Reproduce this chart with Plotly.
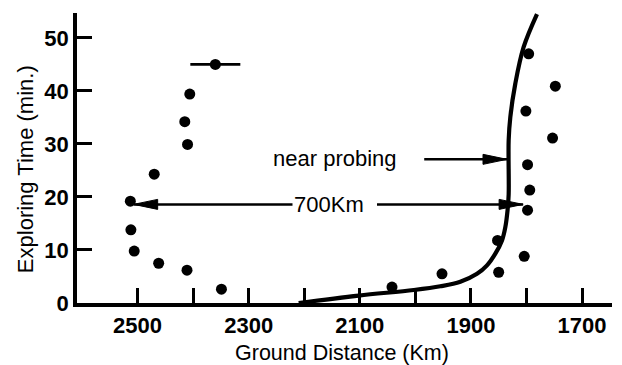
import plotly.graph_objects as go

# Observed echoes: ground distance (km) vs. exploring time (min)
obs_dist = [2513, 2512, 2506, 2462, 2470, 2411, 2410, 2415, 2406, 2349,
            1796, 1748, 1801, 1753, 1798, 1794, 1798, 1852, 1804, 1850, 1952, 2042]
obs_time = [19.2, 13.8, 9.8, 7.5, 24.3, 6.2, 29.9, 34.2, 39.4, 2.6,
            47.0, 40.9, 36.2, 31.1, 26.1, 21.3, 17.5, 11.8, 8.8, 5.8, 5.5, 3.0]

# Single observation carrying a horizontal uncertainty bar
bar_dist = [2360]
bar_time = [45.0]
bar_half = [45]

# Model curve
curve_dist = [2210, 2102, 2003, 1955, 1919, 1889, 1871, 1856, 1844, 1838, 1834,
              1832, 1832, 1829, 1820, 1805, 1781]
curve_time = [0.0, 1.4, 2.45, 3.15, 4.0, 5.5, 7.1, 9.3, 11.8, 14.3, 17.5,
              20.5, 30.7, 35.1, 41.4, 48.3, 54.5]

# Axis ticks
x_ticks = [2500, 2400, 2300, 2200, 2100, 2000, 1900, 1800, 1700]
x_labels = ["2500", "", "2300", "", "2100", "", "1900", "", "1700"]
y_ticks = [0, 10, 20, 30, 40, 50]
y_labels = ["0", "10", "20", "30", "40", "50"]

# Text labels: (text, x, y)
labels = [("near probing", 2144, 27.3), ("700Km", 2155, 18.6)]
# Arrows: tail x, tip x, y
arrow_tail = [1984, 2220, 2069]
arrow_tip = [1835, 2507, 1806]
arrow_y = [27.1, 18.6, 18.6]

FONT = "Liberation Sans, Arial, Helvetica, sans-serif"

fig = go.Figure()
fig.add_trace(go.Scatter(x=curve_dist, y=curve_time, mode="lines",
                         line=dict(color="black", width=4.2, shape="spline", smoothing=1.0),
                         cliponaxis=False, hoverinfo="skip"))
fig.add_trace(go.Scatter(x=obs_dist, y=obs_time, mode="markers",
                         marker=dict(size=11, color="black"), cliponaxis=False))
fig.add_trace(go.Scatter(x=bar_dist, y=bar_time, mode="markers",
                         marker=dict(size=11, color="black"),
                         error_x=dict(type="data", array=bar_half, width=0,
                                      thickness=2.8, color="black")))

shapes = []
for tail, tip, yv in zip(arrow_tail, arrow_tip, arrow_y):
    shapes.append(dict(type="line", xref="x", yref="y", x0=tail, x1=tip, y0=yv, y1=yv,
                       line=dict(color="black", width=2.5)))
    # arrowhead drawn in pixels, pointing from tail toward tip on the reversed axis
    d = -1 if tip < tail else 1
    path = f"M0,0 L{d*24},5 L{d*24},-5 Z"
    shapes.append(dict(type="path", xref="x", yref="y", xsizemode="pixel", ysizemode="pixel",
                       xanchor=tip, yanchor=yv, path=path,
                       fillcolor="black", line=dict(color="black", width=1)))

annotations = []
for text, tx, ty in labels:
    annotations.append(dict(x=tx, y=ty, xref="x", yref="y", text=text, showarrow=False,
                            font=dict(family=FONT, size=22, color="black"),
                            bgcolor="white", xanchor="center", yanchor="middle"))
annotations.append(dict(x=0.495, y=-0.172, xref="paper", yref="paper",
                        text="Ground Distance (Km)", showarrow=False,
                        font=dict(family=FONT, size=21.5, color="black"),
                        xanchor="center", yanchor="middle"))
annotations.append(dict(x=-0.097, y=0.462, xref="paper", yref="paper",
                        text="Exploring Time (min.)", showarrow=False, textangle=-90,
                        font=dict(family=FONT, size=22, color="black"),
                        xanchor="center", yanchor="middle"))

axis_common = dict(showline=True, linewidth=3.5, linecolor="black", ticks="inside",
                   ticklen=15, tickwidth=3, tickcolor="black", showgrid=False,
                   zeroline=False,
                   tickfont=dict(family=FONT, size=22, color="black", weight="bold"))

fig.update_layout(
    width=622, height=365,
    margin=dict(l=77, r=10, t=13, b=62),
    paper_bgcolor="white", plot_bgcolor="white",
    showlegend=False,
    shapes=shapes, annotations=annotations,
    xaxis=dict(range=[2609, 1646], tickmode="array", tickvals=x_ticks, ticktext=x_labels,
               **axis_common),
    yaxis=dict(range=[0, 54.7], tickmode="array", tickvals=y_ticks, ticktext=y_labels,
               **axis_common),
)

fig.write_html("out.html")
